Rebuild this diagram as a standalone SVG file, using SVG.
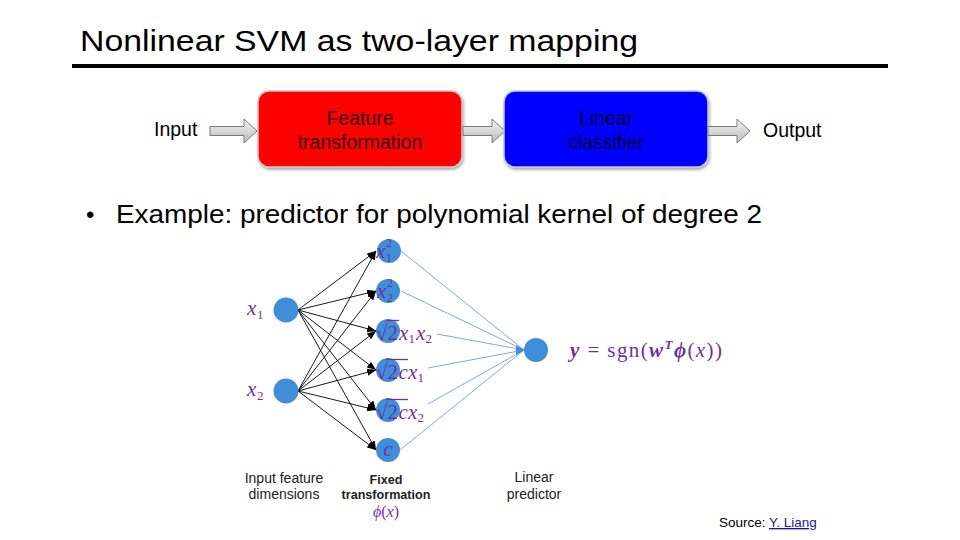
<svg xmlns="http://www.w3.org/2000/svg" width="960" height="540" viewBox="0 0 960 540">
<defs>
<linearGradient id="ga" x1="0" y1="0" x2="0" y2="1">
<stop offset="0" stop-color="#f4f4f4"/><stop offset="1" stop-color="#bcbcbc"/>
</linearGradient>
<marker id="ab" markerUnits="userSpaceOnUse" markerWidth="9" markerHeight="9" viewBox="0 0 10 10" refX="10" refY="5" orient="auto">
<path d="M0,1 L10,5 L0,9 Z" fill="#000"/>
</marker>
<filter id="sh" x="-10%" y="-10%" width="120%" height="130%">
<feDropShadow dx="1" dy="2" stdDeviation="1.5" flood-color="#000" flood-opacity="0.35"/>
</filter>
</defs>
<style>
text{font-family:"Liberation Sans",Arial,sans-serif;}
.m{font-family:"Liberation Serif","Times New Roman",serif;fill:#7030a0;font-style:italic;}
.mu{font-family:"Liberation Serif","Times New Roman",serif;fill:#7030a0;}
.node{fill:#3f8ed7;}
.blk{stroke:#000;stroke-width:0.9;fill:none;marker-end:url(#ab);}
.blu{stroke:#6ea2cf;stroke-width:0.9;fill:none;}
.garr{fill:url(#ga);stroke:#7a7a7a;stroke-width:1;}
.lbl{font-size:14px;fill:#222;}
.bar{stroke:#7030a0;stroke-width:1.3;}
</style>
<rect width="960" height="540" fill="#fff"/>
<text x="80" y="51" font-size="30" textLength="558" lengthAdjust="spacingAndGlyphs" fill="#000">Nonlinear SVM as two-layer mapping</text>
<rect x="72" y="64" width="816" height="4" fill="#000"/>

<g id="input-label"><text x="154" y="136" font-size="19.5" fill="#000">Input</text></g>
<g id="arrow-in"><path class="garr" d="M210,126.5 H244 V119 L257,131 L244,143 V135.5 H210 Z"/></g>
<g id="feature-box">
<rect x="258" y="91" width="204" height="76" rx="11" fill="#ff0000" stroke="#c8c8c8" stroke-width="1.5" filter="url(#sh)"/>
<text x="360" y="125" font-size="19.5" text-anchor="middle" fill="#300000">Feature</text>
<text x="360" y="149" font-size="19.5" text-anchor="middle" fill="#300000">transformation</text>
</g>
<g id="arrow-mid"><path class="garr" d="M463,126.5 H492 V119 L505,131 L492,143 V135.5 H463 Z"/></g>
<g id="classifier-box">
<rect x="504" y="91" width="204" height="76" rx="11" fill="#0000ff" stroke="#c8c8c8" stroke-width="1.5" filter="url(#sh)"/>
<text x="606" y="125" font-size="19.5" text-anchor="middle" fill="#000040">Linear</text>
<text x="606" y="149" font-size="19.5" text-anchor="middle" fill="#000040">classifier</text>
</g>
<g id="arrow-out"><path class="garr" d="M708,126.5 H737 V119 L750,131 L737,143 V135.5 H708 Z"/></g>
<g id="output-label"><text x="763" y="137" font-size="19.5" fill="#000">Output</text></g>

<g id="bullet">
<text x="86" y="223" font-size="24" fill="#000">•</text>
<text x="116" y="223" font-size="25" textLength="646" lengthAdjust="spacingAndGlyphs" fill="#000">Example: predictor for polynomial kernel of degree 2</text>
</g>

<g id="connectors">
<line class="blk" x1="298" y1="310" x2="376" y2="251"/>
<line class="blk" x1="298" y1="310" x2="376" y2="291"/>
<line class="blk" x1="298" y1="310" x2="376" y2="331"/>
<line class="blk" x1="298" y1="310" x2="376" y2="370"/>
<line class="blk" x1="298" y1="310" x2="376" y2="410"/>
<line class="blk" x1="298" y1="310" x2="376" y2="450"/>
<line class="blk" x1="298" y1="391" x2="376" y2="251"/>
<line class="blk" x1="298" y1="391" x2="376" y2="291"/>
<line class="blk" x1="298" y1="391" x2="376" y2="331"/>
<line class="blk" x1="298" y1="391" x2="376" y2="370"/>
<line class="blk" x1="298" y1="391" x2="376" y2="410"/>
<line class="blk" x1="298" y1="391" x2="376" y2="450"/>
<line class="blu" x1="401" y1="251" x2="524" y2="350"/>
<line class="blu" x1="401" y1="291" x2="524" y2="350"/>
<line class="blu" x1="437" y1="334" x2="524" y2="350"/>
<line class="blu" x1="428" y1="368" x2="524" y2="350"/>
<line class="blu" x1="428" y1="404" x2="524" y2="350"/>
<line class="blu" x1="400" y1="450" x2="524" y2="350"/>
<path d="M516,345 L524.5,350 L516,355 Z" fill="#3f8ed7"/>
</g>

<g id="node-x1"><circle class="node" cx="286" cy="310" r="12.5"/><text class="m" x="247" y="315" font-size="21">x</text><text class="mu" x="257" y="319" font-size="13">1</text></g>
<g id="node-x2"><circle class="node" cx="286" cy="391" r="12.5"/><text class="m" x="247" y="396" font-size="21">x</text><text class="mu" x="257" y="400" font-size="13">2</text></g>

<g id="node-h1"><circle class="node" cx="389" cy="251" r="12"/><text class="m" x="376" y="258" font-size="21">x</text><text class="mu" x="386" y="247" font-size="12">2</text><text class="mu" x="386" y="261.5" font-size="12">1</text></g>
<g id="node-h2"><circle class="node" cx="388" cy="291" r="12"/><text class="m" x="377" y="298" font-size="21">x</text><text class="mu" x="387" y="287" font-size="12">2</text><text class="mu" x="387" y="301.5" font-size="12">2</text></g>
<g id="node-h3"><circle class="node" cx="388" cy="331" r="12"/>
<text class="mu" x="376" y="340" font-size="21">√</text><line class="bar" x1="386" y1="320.5" x2="399" y2="320.5"/><text class="mu" x="387.5" y="340" font-size="21">2</text>
<text class="m" x="399" y="340" font-size="21">x</text><text class="mu" x="408.5" y="343" font-size="13">1</text><text class="m" x="416" y="340" font-size="21">x</text><text class="mu" x="425.5" y="343" font-size="13">2</text></g>
<g id="node-h4"><circle class="node" cx="388" cy="370" r="12"/>
<text class="mu" x="376" y="379" font-size="21">√</text><line class="bar" x1="386" y1="359.5" x2="408" y2="359.5"/><text class="mu" x="387.5" y="379" font-size="21">2</text>
<text class="m" x="398.5" y="379" font-size="21">c</text><text class="m" x="408" y="379" font-size="21">x</text><text class="mu" x="417.5" y="382" font-size="13">1</text></g>
<g id="node-h5"><circle class="node" cx="388" cy="410" r="12"/>
<text class="mu" x="376" y="419" font-size="21">√</text><line class="bar" x1="386" y1="399.5" x2="408" y2="399.5"/><text class="mu" x="387.5" y="419" font-size="21">2</text>
<text class="m" x="398.5" y="419" font-size="21">c</text><text class="m" x="408" y="419" font-size="21">x</text><text class="mu" x="417.5" y="422" font-size="13">2</text></g>
<g id="node-h6"><circle class="node" cx="388" cy="450" r="12"/><text class="m" x="388" y="456" font-size="21" text-anchor="middle">c</text></g>

<g id="node-out"><circle class="node" cx="536" cy="350" r="12"/></g>
<g id="formula"><text class="mu" x="570" y="357" font-size="21" textLength="152" lengthAdjust="spacing"><tspan font-style="italic" font-weight="bold">y</tspan> = sgn(<tspan font-style="italic" font-weight="bold">w</tspan><tspan font-style="italic" font-weight="bold" font-size="13" dy="-8">T</tspan><tspan font-style="italic" font-weight="bold" dy="8">ϕ</tspan>(<tspan font-style="italic">x</tspan>))</text></g>

<g id="bottom-labels">
<text class="lbl" x="284" y="483" text-anchor="middle">Input feature</text>
<text class="lbl" x="284" y="499" text-anchor="middle">dimensions</text>
<text x="386" y="484" font-size="12.6" font-weight="bold" text-anchor="middle" fill="#222">Fixed</text>
<text x="386" y="499" font-size="12.6" font-weight="bold" text-anchor="middle" fill="#222">transformation</text>
<text class="mu" x="386" y="517" font-size="16" text-anchor="middle"><tspan font-style="italic">ϕ</tspan>(<tspan font-style="italic">x</tspan>)</text>
<text class="lbl" x="534" y="482" text-anchor="middle">Linear</text>
<text class="lbl" x="534" y="499" text-anchor="middle">predictor</text>
</g>
<g id="source"><text x="719" y="527" font-size="13.5" fill="#000">Source: <tspan fill="#1a1aa6" text-decoration="underline">Y. Liang</tspan></text></g>
</svg>
